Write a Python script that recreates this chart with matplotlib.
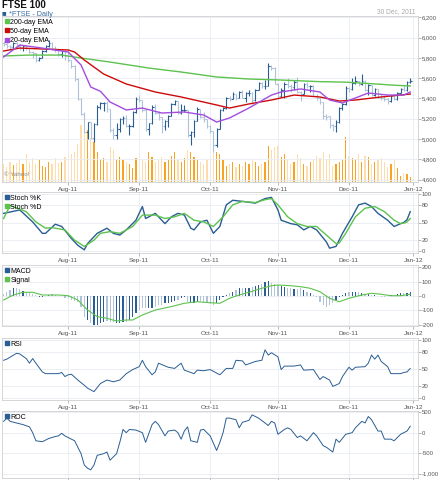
import matplotlib
matplotlib.use("Agg")
import matplotlib.pyplot as plt
from matplotlib.lines import Line2D
import numpy as np
import pandas as pd

plt.rcParams["axes.unicode_minus"] = False
plt.rcParams["font.family"] = ["Liberation Sans", "DejaVu Sans"]

# trading days shown (LSE, 4 Jul - 30 Dec 2011)
dates = pd.bdate_range("2011-07-04", "2011-12-30")
dates = dates.drop(pd.to_datetime(["2011-08-29", "2011-12-26", "2011-12-27"]))

# daily OHLC of the FTSE 100
opens = [5945, 5940, 5915, 5905, 5950, 5920, 5900, 5915, 5895, 5860, 5845, 5780, 5800, 5870, 5920, 5950, 5900, 5880, 5840, 5870,
         5815, 5775, 5715, 5590, 5395, 5250, 5070, 5165, 5010, 5150, 5320, 5350, 5355, 5295, 5090, 5040, 5095, 5200, 5205, 5130, 5130, 5270,
         5395, 5380, 5290, 5100, 5155, 5320, 5260, 5215, 5130, 5175, 5230, 5340, 5370, 5260, 5290, 5290, 5040, 5065, 5180, 5295, 5215, 5195,
         5130, 5075, 4945, 5100, 5290, 5305, 5400, 5395, 5440, 5405, 5465, 5405, 5450, 5450, 5380, 5485, 5550, 5525, 5525, 5715, 5700,
         5545, 5420, 5485, 5545, 5525, 5510, 5565, 5460, 5445, 5545, 5520, 5520, 5425, 5400, 5360, 5225, 5225, 5140, 5125, 5165, 5310, 5340,
         5505, 5490, 5550, 5570, 5545, 5575, 5485, 5530, 5430, 5490, 5405, 5400, 5390, 5370, 5420, 5390, 5455, 5495, 5480, 5565]
highs = [5965, 5950, 5930, 5960, 5955, 5935, 5925, 5930, 5900, 5870, 5850, 5810, 5880, 5930, 5975, 5955, 5920, 5890, 5880, 5880,
         5880, 5780, 5730, 5600, 5400, 5270, 5170, 5170, 5160, 5330, 5360, 5365, 5370, 5300, 5110, 5160, 5210, 5230, 5240, 5150, 5280, 5410,
         5430, 5385, 5295, 5160, 5330, 5340, 5275, 5220, 5190, 5240, 5350, 5385, 5375, 5340, 5330, 5290, 5080, 5190, 5320, 5300, 5270, 5200,
         5140, 5080, 5110, 5300, 5320, 5410, 5420, 5460, 5445, 5470, 5480, 5460, 5480, 5460, 5490, 5560, 5560, 5580, 5750, 5730, 5710,
         5550, 5500, 5560, 5600, 5540, 5580, 5610, 5470, 5550, 5560, 5530, 5530, 5440, 5410, 5365, 5250, 5225, 5150, 5190, 5320, 5350, 5520,
         5510, 5600, 5620, 5575, 5640, 5580, 5540, 5535, 5500, 5495, 5440, 5420, 5400, 5430, 5440, 5460, 5500, 5520, 5570, 5600]
lows = [5920, 5900, 5880, 5900, 5900, 5880, 5870, 5880, 5850, 5800, 5760, 5770, 5795, 5860, 5910, 5880, 5860, 5820, 5810, 5780,
        5760, 5700, 5570, 5380, 5240, 5060, 5000, 5000, 4970, 5140, 5300, 5280, 5270, 5070, 5000, 5000, 5070, 5150, 5120, 5040, 5120, 5260,
        5360, 5270, 5080, 5040, 5150, 5250, 5190, 5060, 5090, 5120, 5225, 5330, 5250, 5250, 5270, 5020, 4940, 5020, 5175, 5210, 5170, 5110,
        5060, 4870, 4920, 5095, 5280, 5300, 5370, 5390, 5380, 5400, 5400, 5360, 5420, 5340, 5375, 5480, 5500, 5490, 5520, 5680, 5540,
        5390, 5410, 5400, 5500, 5460, 5480, 5450, 5370, 5440, 5500, 5460, 5420, 5380, 5340, 5200, 5190, 5110, 5080, 5070, 5160, 5290, 5330,
        5460, 5485, 5540, 5520, 5530, 5470, 5430, 5420, 5420, 5400, 5380, 5370, 5345, 5360, 5380, 5385, 5450, 5470, 5470, 5555]
closes = [5940, 5915, 5905, 5950, 5920, 5900, 5915, 5895, 5860, 5845, 5780, 5800, 5870, 5920, 5950, 5900, 5880, 5840, 5870, 5815,
          5775, 5715, 5590, 5395, 5250, 5070, 5165, 5010, 5150, 5320, 5350, 5355, 5295, 5090, 5040, 5095, 5200, 5205, 5130, 5130, 5270, 5395,
          5380, 5290, 5100, 5155, 5320, 5260, 5215, 5130, 5175, 5230, 5340, 5370, 5260, 5290, 5290, 5040, 5065, 5180, 5295, 5215, 5195, 5130,
          5075, 4945, 5100, 5290, 5305, 5400, 5395, 5440, 5405, 5465, 5405, 5450, 5450, 5380, 5485, 5550, 5525, 5525, 5715, 5700, 5545,
          5420, 5485, 5545, 5525, 5510, 5565, 5460, 5445, 5545, 5520, 5520, 5425, 5400, 5360, 5225, 5220, 5140, 5125, 5165, 5310, 5340, 5505,
          5490, 5550, 5570, 5545, 5575, 5485, 5530, 5430, 5490, 5405, 5400, 5390, 5370, 5420, 5390, 5455, 5495, 5480, 5565, 5575]
# volume, millions of shares
volume = [720, 600, 800, 680, 760, 880, 720, 1120, 800, 960, 720, 880, 640, 600, 800, 720, 960, 760, 800, 1000,
          1040, 1120, 1200, 1520, 2280, 1920, 2080, 1760, 1600, 1200, 880, 960, 800, 1400, 1280, 880, 1000, 880, 800, 720, 560, 960,
          1120, 880, 800, 1200, 1000, 800, 880, 1000, 800, 880, 1040, 1200, 880, 800, 960, 1280, 1200, 1000, 880, 800, 720, 880,
          1040, 1320, 1200, 1120, 880, 640, 720, 800, 600, 720, 640, 800, 720, 880, 800, 640, 720, 800, 1440, 1280, 1400,
          1440, 1000, 1120, 880, 720, 800, 1120, 960, 720, 640, 800, 880, 1040, 960, 1200, 880, 1120, 640, 720, 800, 880, 1800,
          1040, 960, 880, 1120, 800, 1040, 1000, 720, 800, 880, 960, 800, 600, 720, 880, 560, 240, 360, 320, 200]
# MACD, one value per day
macd = [12, 30, 42, 54, 54, 47, 35, 30, 26, 12, 7, -4, -4, 2, 7, 12, 7, 2, 2, -12,
        -16, -28, -35, -40, -74, -144, -168, -190, -203, -203, -190, -180, -175, -180, -180, -190, -190, -180, -180, -168, -144, -121,
        -98, -86, -86, -86, -86, -74, -63, -63, -51, -51, -40, -35, -28, -16, -4, -40, -51, -51, -40, -35, -40, -51,
        -58, -63, -51, -28, -4, 7, 19, 30, 42, 54, 54, 58, 58, 65, 72, 77, 82, 100, 105, 88, 82,
        77, 72, 65, 58, 54, 49, 49, 54, 42, 30, 19, 7, -4, -40, -63, -74, -63, -51, -28, -4, 7, 19,
        26, 30, 30, 26, 19, 12, 12, 7, 7, 2, -4, -4, 2, 7, 7, 12, 19, 19, 20, 25]

# moving averages, read at sample days
ema200_days = ["07-04", "07-14", "07-28", "08-05", "08-18", "09-06", "09-20", "10-05", "10-19", "11-02",
               "11-18", "11-30", "12-12", "12-21", "12-30"]
ema200 = [5818, 5827, 5827, 5798, 5758, 5699, 5660, 5611, 5591, 5581, 5565, 5560, 5545, 5530, 5522]
ema50_days = ["07-04", "07-11", "08-01", "08-03", "08-08", "08-16", "08-25", "09-08", "09-20", "10-05",
              "10-11", "10-19", "10-28", "11-08", "11-18", "11-28", "12-05", "12-15", "12-30"]
ema50 = [5867, 5896, 5877, 5857, 5778, 5640, 5542, 5463, 5414, 5335, 5305, 5345, 5384, 5433, 5414, 5374,
         5384, 5414, 5443]
ema20_days = ["07-04", "07-11", "07-20", "08-01", "08-05", "08-10", "08-15", "08-18", "08-25", "09-02",
              "09-12", "09-21", "09-29", "10-05", "10-11", "10-19", "10-28", "11-02", "11-10", "11-18",
              "11-23", "11-29", "12-05", "12-09", "12-19", "12-28", "12-30"]
ema20 = [5808, 5926, 5896, 5857, 5729, 5512, 5470, 5364, 5286, 5305, 5256, 5266, 5236, 5167, 5207, 5305,
         5433, 5463, 5493, 5463, 5384, 5355, 5404, 5453, 5433, 5433, 5463]

stk_days = ["07-04", "07-11", "07-15", "07-20", "07-21", "07-26", "07-28", "08-02", "08-04", "08-08",
            "08-09", "08-12", "08-17", "08-19", "08-23", "08-25", "08-31", "09-02", "09-05", "09-08",
            "09-13", "09-15", "09-19", "09-21", "09-23", "09-26", "09-28", "09-30", "10-04", "10-06",
            "10-10", "10-12", "10-17", "10-21", "10-26", "10-28", "11-01", "11-02", "11-07", "11-09",
            "11-11", "11-15", "11-17", "11-22", "11-23", "11-25", "11-29", "12-02", "12-06", "12-08",
            "12-12", "12-14", "12-19", "12-21", "12-23", "12-28", "12-29", "12-30"]
stoch_k = [66, 72, 51, 31, 31, 47, 43, 22, 10, 2, 13, 31, 40, 31, 28, 37, 54, 78, 57, 66,
           48, 60, 66, 63, 40, 37, 51, 54, 31, 43, 81, 89, 87, 84, 92, 94, 72, 54, 48, 46,
           37, 43, 37, 16, 5, 8, 31, 60, 81, 84, 78, 66, 54, 43, 48, 50, 55, 69]
std_days = ["07-04", "07-06", "07-13", "07-18", "07-21", "07-25", "07-29", "08-03", "08-08", "08-11",
            "08-15", "08-18", "08-23", "08-30", "09-02", "09-08", "09-13", "09-16", "09-21", "09-26",
            "09-29", "10-04", "10-07", "10-12", "10-17", "10-21", "10-26", "10-28", "11-01", "11-04",
            "11-09", "11-14", "11-17", "11-22", "11-25", "11-28", "11-30", "12-05", "12-08", "12-13",
            "12-16", "12-21", "12-23", "12-28", "12-29", "12-30"]
stoch_d = [57, 80, 69, 51, 40, 41, 37, 19, 8, 19, 31, 34, 31, 43, 63, 63, 57, 60, 66, 54,
           51, 43, 60, 81, 87, 85, 90, 92, 81, 60, 48, 43, 43, 28, 13, 14, 31, 60, 75, 78,
           69, 54, 48, 49, 51, 57]

sig_days = ["07-04", "07-07", "07-12", "07-15", "07-20", "07-27", "08-01", "08-04", "08-09", "08-12",
            "08-17", "08-22", "08-25", "08-30", "09-02", "09-08", "09-15", "09-21", "09-27", "10-03",
            "10-06", "10-11", "10-14", "10-19", "10-25", "10-28", "11-01", "11-07", "11-10", "11-15",
            "11-18", "11-23", "11-28", "12-01", "12-07", "12-12", "12-15", "12-20", "12-23", "12-30"]
signal = [-28, 7, 26, 26, 7, 7, 2, -28, -98, -144, -156, -175, -168, -168, -133, -98, -74, -51, -40, -47,
          -51, -16, 7, 26, 54, 72, 77, 72, 65, 54, 30, -16, -40, -16, 7, 19, 12, 2, 2, 12]

rsi_days = ["07-04", "07-05", "07-08", "07-11", "07-13", "07-14", "07-15", "07-18", "07-20", "07-21",
            "07-27", "07-28", "07-29", "08-01", "08-02", "08-04", "08-08", "08-09", "08-11", "08-15",
            "08-17", "08-19", "08-23", "08-25", "08-30", "09-01", "09-02", "09-05", "09-07", "09-08",
            "09-09", "09-14", "09-16", "09-20", "09-21", "09-26", "09-27", "09-29", "10-03", "10-06",
            "10-10", "10-12", "10-13", "10-17", "10-18", "10-21", "10-25", "10-26", "10-27", "10-28",
            "11-01", "11-02", "11-03", "11-08", "11-10", "11-11", "11-16", "11-18", "11-21", "11-23",
            "11-24", "11-28", "11-29", "12-01", "12-02", "12-05", "12-08", "12-09", "12-12", "12-13",
            "12-14", "12-15", "12-19", "12-20", "12-23", "12-28", "12-29", "12-30"]
rsi = [65, 67, 77, 76, 68, 60, 68, 60, 45, 42, 42, 44, 37, 40, 41, 31, 22, 17, 11, 25,
       31, 28, 31, 42, 49, 54, 65, 54, 40, 45, 60, 53, 51, 60, 48, 42, 48, 47, 49, 40,
       51, 51, 65, 64, 57, 63, 65, 83, 74, 78, 71, 49, 55, 55, 57, 48, 49, 32, 37, 31,
       20, 25, 37, 53, 48, 53, 54, 60, 74, 67, 74, 63, 54, 42, 42, 44, 45, 51]

roc_days = ["07-04", "07-05", "07-06", "07-08", "07-12", "07-14", "07-15", "07-18", "07-20", "07-22",
            "07-26", "07-27", "07-28", "07-29", "08-01", "08-03", "08-05", "08-08", "08-09", "08-10",
            "08-11", "08-12", "08-16", "08-17", "08-18", "08-22", "08-23", "08-24", "08-25", "08-26",
            "08-31", "09-02", "09-05", "09-07", "09-08", "09-09", "09-13", "09-14", "09-16", "09-19",
            "09-20", "09-21", "09-22", "09-23", "09-27", "09-28", "09-29", "10-03", "10-05", "10-06",
            "10-07", "10-10", "10-11", "10-13", "10-14", "10-17", "10-19", "10-20", "10-24", "10-26",
            "10-27", "10-28", "10-31", "11-01", "11-03", "11-04", "11-07", "11-09", "11-10", "11-14",
            "11-16", "11-17", "11-21", "11-22", "11-24", "11-25", "11-28", "11-30", "12-02", "12-05",
            "12-07", "12-08", "12-09", "12-12", "12-14", "12-15", "12-16", "12-20", "12-21", "12-23",
            "12-28", "12-29", "12-30"]
roc = [281, 360, 281, 241, 201, 146, 3, -196, -219, -140, -92, -76, -13, -76, -116, -196, -513, -791, -870, -910,
       -791, -553, -513, -473, -672, -513, -235, 82, 3, 82, 67, 3, -235, 201, 281, 201, -76, 43, 67, 3,
       -156, 43, 146, -196, -235, 67, 82, -76, -434, -235, 3, 360, 360, 321, 122, 257, 305, 440, 360, 241,
       178, 281, 241, -37, 82, 122, 82, -116, -76, -196, 3, -76, -315, -354, -473, -156, -235, -37, 3, 122,
       281, 241, 400, 321, 43, 43, -156, -156, -196, -37, 3, 43, 162]

month_starts = ["08-01", "09-01", "10-03", "11-01", "12-01"]
month_labels = ["Aug-11", "Sep-11", "Oct-11", "Nov-11", "Dec-11", "Jan-12"]

DARK = "#2a5d93"
LIGHT = "#afc2d8"
GREEN = "#5dc24e"
RED = "#cc0a0a"
PURPLE = "#a34ddd"
VOL_DARK = "#f8a323"
VOL_LIGHT = "#fddcae"
GRID = "#e8edf2"
FS = 4.6
YFS = 4.3

day = {d.strftime("%m-%d"): i for i, d in enumerate(dates)}
x = np.arange(len(dates))


def at(keys):
    return [day[k] for k in keys]


ticks = at(month_starts) + [len(dates)]
up = np.array(closes) >= np.array(opens)
bar_colors = [DARK if u else LIGHT for u in up]

W, H = 439, 480
fig = plt.figure(figsize=(W / 100, H / 100), dpi=100)
fig.patch.set_facecolor("white")


def style_y(ax, yticks, ylabels):
    ax.yaxis.tick_right()
    ax.set_yticks(yticks)
    ax.set_yticklabels(ylabels)
    ax.tick_params(axis="y", left=False, right=True, labelleft=False, labelright=True,
                   length=2, width=0.5, color="#999999", labelsize=YFS,
                   labelcolor="#555555", pad=0.8)


def panel(top, bottom, ylim, yticks, ylabels, show_months=True):
    ax = fig.add_axes([2 / W, 1 - bottom / H, 416 / W, (bottom - top) / H])
    ax.set_xlim(-0.5, 128.4)
    ax.set_ylim(*ylim)
    style_y(ax, yticks, ylabels)
    ax.set_xticks(ticks)
    ax.set_xticklabels(month_labels if show_months else [])
    ax.tick_params(axis="x", length=2, width=0.5, color="#999999", labelsize=FS,
                   labelcolor="#555555", pad=1.5)
    ax.grid(True, color=GRID, lw=0.6)
    ax.set_axisbelow(True)
    for s in ax.spines.values():
        s.set_color("#cfcfcf")
        s.set_linewidth(0.6)
    return ax


def legend(ax, items):
    handles = [Line2D([], [], ls="none", marker="s", markersize=3.2, color=c, label=l) for l, c in items]
    ax.legend(handles=handles, loc="upper left", frameon=False, fontsize=5, handlelength=0.5,
              handletextpad=0.3, borderaxespad=0.3, borderpad=0.1, labelspacing=0.3)


# price panel with volume underneath
price_ticks = [4600, 4800, 5000, 5200, 5400, 5600, 5800, 6000, 6200]
price_labels = ["4,600", "4,800", "5,000", "5,200", "5,400", "5,600", "5,800", "6,000", "6,200"]
ax = panel(16, 182, (4576, 6212), price_ticks, price_labels)
vax = ax.twinx()
vax.set_ylim(0, 6640)
vax.set_yticks([])
vax.tick_params(axis="y", right=False, left=False, labelright=False, labelleft=False)
for s in vax.spines.values():
    s.set_visible(False)
vax.bar(x, volume, width=0.38, color=[VOL_DARK if u else VOL_LIGHT for u in up], lw=0)
style_y(ax, price_ticks, price_labels)
ax.set_zorder(vax.get_zorder() + 1)
ax.patch.set_visible(False)

ax.vlines(x, lows, highs, colors=bar_colors, lw=0.8)
ax.hlines(opens, x - 0.45, x, colors=bar_colors, lw=0.8)
ax.hlines(closes, x, x + 0.45, colors=bar_colors, lw=0.8)
ax.plot(at(ema200_days), ema200, color=GREEN, lw=1.0)
ax.plot(at(ema50_days), ema50, color=RED, lw=1.0)
ax.plot(at(ema20_days), ema20, color=PURPLE, lw=1.0)
legend(ax, [("200-day EMA", GREEN), ("50-day EMA", RED), ("20-day EMA", PURPLE)])
ax.text(0.006, 0.035, "© Yahoo!", transform=ax.transAxes, fontsize=4.5, color="#888888")

# stochastic
ax = panel(192, 253, (-3.5, 103.5), [0, 20, 50, 80, 100], ["0", "20", "50", "80", "100"])
ax.plot(at(stk_days), stoch_k, color=DARK, lw=1.0)
ax.plot(at(std_days), stoch_d, color=GREEN, lw=1.0)
legend(ax, [("Stoch %K", DARK), ("Stoch %D", GREEN)])

# MACD
ax = panel(265, 326, (-210, 217), [-200, -100, 0, 100, 200], ["-200", "-100", "0", "100", "200"])
ax.bar(x, macd, width=0.38, color=bar_colors, lw=0)
ax.plot(at(sig_days), signal, color=GREEN, lw=0.8)
legend(ax, [("MACD", DARK), ("Signal", GREEN)])

# RSI
ax = panel(338, 400, (-3.4, 103.4), [0, 20, 50, 80, 100], ["0", "20", "50", "80", "100"])
ax.plot(at(rsi_days), rsi, color=DARK, lw=0.7)
legend(ax, [("RSI", DARK)])

# ROC
ax = panel(411, 478, (-1110, 535), [-1000, -500, 0, 500], ["-1,000", "-500", "0", "500"],
           show_months=False)
ax.plot(at(roc_days), roc, color=DARK, lw=0.7)
legend(ax, [("ROC", DARK)])

fig.text(2 / W, 1 - 0.5 / H, "FTSE 100", fontsize=7, weight="bold", va="top", color="#111111")
fig.text(2 / W, 1 - 14 / H, "■", fontsize=5.5, va="center", color=DARK)
fig.text(9 / W, 1 - 14 / H, "*FTSE - Daily", fontsize=5.2, va="center", color="#3b6ea3")
fig.text(416 / W, 1 - 12 / H, "30 Dec, 2011", fontsize=4.8, va="center", ha="right", color="#aaaaaa")

fig.savefig("out.png", dpi=100)
